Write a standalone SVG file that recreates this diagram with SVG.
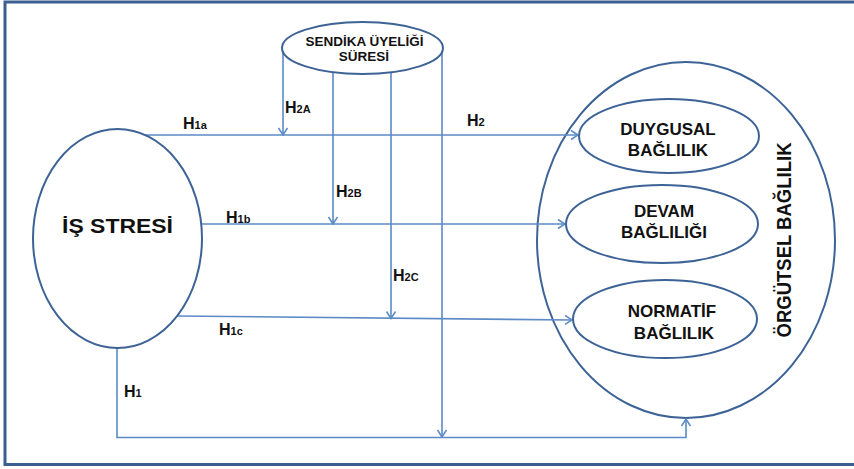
<svg xmlns="http://www.w3.org/2000/svg" width="854" height="469" viewBox="0 0 854 469">
<style>
  .node { fill: #ffffff; stroke: #3d6396; stroke-width: 2; }
  .conn { fill: none; stroke: #5b8ac6; stroke-width: 1.6; }
  .t { font-family: "Liberation Sans", Arial, sans-serif; font-weight: bold; fill: #111111; text-anchor: middle; }
  .h { font-family: "Liberation Sans", Arial, sans-serif; font-weight: bold; fill: #111111; font-size: 16px; }
  .s { font-size: 11px; }
</style>
<defs>
  <marker id="arr" viewBox="0 0 12 12" refX="11" refY="6" markerWidth="12" markerHeight="12" markerUnits="userSpaceOnUse" orient="auto">
    <path d="M4,1.5 L11,6 L4,10.5" fill="none" stroke="#5b8ac6" stroke-width="1.5"/>
  </marker>
</defs>
<rect x="5" y="2" width="870" height="462.5" fill="#ffffff" stroke="#3b5f8f" stroke-width="3"/>

<g id="orgutsel">
  <ellipse class="node" cx="686" cy="240" rx="149" ry="178"/>
  <text class="t" font-size="20" transform="translate(791,240) rotate(-90)" textLength="195" lengthAdjust="spacingAndGlyphs">ÖRGÜTSEL BAĞLILIK</text>
</g>

<g id="connectors">
  <path class="conn" d="M145,135 L578,135" marker-end="url(#arr)"/>
  <path class="conn" d="M201,224 L565,224" marker-end="url(#arr)"/>
  <path class="conn" d="M177,316 L572,320" marker-end="url(#arr)"/>
  <path class="conn" d="M117,348 L117,437.5 L686,437.5 L686,419" marker-end="url(#arr)"/>
  <path class="conn" d="M283,50 L283,135" marker-end="url(#arr)"/>
  <path class="conn" d="M333,72 L333,224" marker-end="url(#arr)"/>
  <path class="conn" d="M391,72 L391,318.5" marker-end="url(#arr)"/>
  <path class="conn" d="M442,50 L442,437" marker-end="url(#arr)"/>
</g>

<g id="is-stresi">
  <ellipse class="node" cx="117.5" cy="238.5" rx="84.5" ry="109.5"/>
  <text class="t" x="117.5" y="233" font-size="21" textLength="111" lengthAdjust="spacingAndGlyphs">İŞ STRESİ</text>
</g>

<g id="sendika">
  <ellipse class="node" cx="362.5" cy="48" rx="80.5" ry="26"/>
  <text class="t" x="364.5" y="46" font-size="13.5">SENDİKA ÜYELİĞİ</text>
  <text class="t" x="364" y="61" font-size="13.5">SÜRESİ</text>
</g>

<g id="duygusal">
  <ellipse class="node" cx="669" cy="136" rx="90" ry="37"/>
  <text class="t" x="668" y="135" font-size="17">DUYGUSAL</text>
  <text class="t" x="668" y="156" font-size="17">BAĞLILIK</text>
</g>

<g id="devam">
  <ellipse class="node" cx="662" cy="224" rx="96" ry="39"/>
  <text class="t" x="664" y="217" font-size="17">DEVAM</text>
  <text class="t" x="664" y="238" font-size="17">BAĞLILIĞI</text>
</g>

<g id="normatif">
  <ellipse class="node" cx="665" cy="319" rx="92" ry="39"/>
  <text class="t" x="672" y="317" font-size="17">NORMATİF</text>
  <text class="t" x="674" y="339" font-size="17">BAĞLILIK</text>
</g>

<g id="labels">
  <text class="h" x="183" y="129">H<tspan class="s">1a</tspan></text>
  <text class="h" x="285" y="113">H<tspan class="s">2A</tspan></text>
  <text class="h" x="467" y="126">H<tspan class="s">2</tspan></text>
  <text class="h" x="336" y="197">H<tspan class="s">2B</tspan></text>
  <text class="h" x="226" y="223">H<tspan class="s">1b</tspan></text>
  <text class="h" x="393" y="281">H<tspan class="s">2C</tspan></text>
  <text class="h" x="219" y="335">H<tspan class="s">1c</tspan></text>
  <text class="h" x="124" y="397">H<tspan class="s">1</tspan></text>
</g>
</svg>
